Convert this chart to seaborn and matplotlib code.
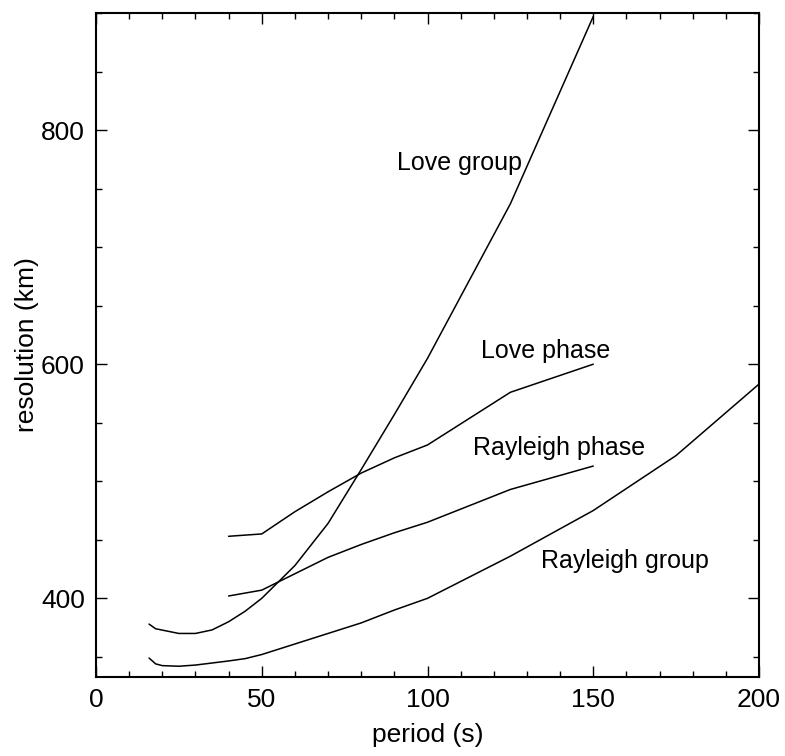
import matplotlib
matplotlib.use("Agg")
import matplotlib.pyplot as plt
from matplotlib.ticker import MultipleLocator
import seaborn as sns
import pandas as pd

# ---- data ----
love_group_period = [16, 18, 25, 30, 35, 40, 45, 50, 55, 60, 70, 80, 90, 100, 125, 150]
love_group_res    = [378, 374, 370, 370, 373, 380, 389, 400, 414, 428, 464, 510, 557, 605, 737, 897]

love_phase_period = [40, 50, 60, 70, 80, 90, 100, 125, 150]
love_phase_res    = [453, 455, 474, 491, 507, 520, 531, 576, 600]

rayleigh_phase_period = [40, 50, 60, 70, 80, 90, 100, 125, 150]
rayleigh_phase_res    = [402, 407, 421, 435, 446, 456, 465, 493, 513]

rayleigh_group_period = [16, 18, 20, 25, 30, 40, 45, 50, 60, 70, 80, 90, 100, 125, 150, 175, 200]
rayleigh_group_res    = [349, 344, 342.5, 342, 343, 346.5, 348.5, 352, 361, 370, 379, 390, 400, 436, 475, 522, 583]

labels = ["Love group", "Love phase", "Rayleigh phase", "Rayleigh group"]
label_pos_period = [90.7, 116.2, 113.6, 134.2]
label_pos_res = [772, 611, 528.7, 432.3]

series = {
    "Love group": (love_group_period, love_group_res),
    "Love phase": (love_phase_period, love_phase_res),
    "Rayleigh phase": (rayleigh_phase_period, rayleigh_phase_res),
    "Rayleigh group": (rayleigh_group_period, rayleigh_group_res),
}

sns.set_style("ticks")
plt.rcParams['font.family'] = ['Liberation Sans', 'DejaVu Sans']
plt.rcParams.update({
    "text.color": "black",
    "axes.labelcolor": "black",
    "xtick.color": "black",
    "ytick.color": "black",
    "axes.edgecolor": "black",
})

fig = plt.figure(figsize=(7.85, 7.56), dpi=100)
ax = fig.add_axes([96/785, 1-677/756, (759-96)/785, (677-13)/756])

for name, (p, r) in series.items():
    df = pd.DataFrame({"period": p, "res": r})
    sns.lineplot(data=df, x="period", y="res", sort=False, color="black",
                 linewidth=1.1, ax=ax, estimator=None)

for lab, px, py in zip(labels, label_pos_period, label_pos_res):
    ax.text(px, py, lab, fontsize=18, ha="left", va="center", color="black")

ax.set_xlim(0, 200)
ax.set_ylim(332.8, 900)
ax.xaxis.set_major_locator(MultipleLocator(50))
ax.xaxis.set_minor_locator(MultipleLocator(10))
ax.yaxis.set_major_locator(MultipleLocator(200))
ax.yaxis.set_minor_locator(MultipleLocator(50))
ax.tick_params(which="both", direction="in", top=True, right=True, color="black", width=1.0)
ax.tick_params(which="major", length=8, labelsize=19, pad=8, labelcolor="black")
ax.tick_params(which="minor", length=4)
for s in ax.spines.values():
    s.set_linewidth(1.5)
    s.set_color("black")

ax.set_xlabel("period (s)", fontsize=19, labelpad=8, color="black")
ax.set_ylabel("resolution (km)", fontsize=19, labelpad=1.5, color="black")

fig.savefig("out.png", dpi=100)
